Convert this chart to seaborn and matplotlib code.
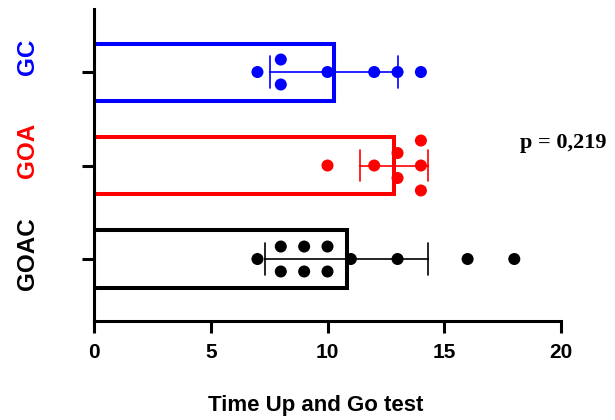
import numpy as np
import pandas as pd
import matplotlib
matplotlib.use("Agg")
import matplotlib.pyplot as plt
import matplotlib.transforms as mtransforms
import seaborn as sns

# ---- data ----
groups = ["GC", "GOA", "GOAC"]
colors = ["#0000FF", "#FF0000", "#000000"]
gc_values = [7, 8, 8, 10, 12, 13, 14]
goa_values = [10, 12, 13, 13, 14, 14, 14]
goac_values = [7, 8, 8, 9, 9, 10, 10, 11, 13, 16, 18]
x_ticks = [0, 5, 10, 15, 20]
x_label = "Time Up and Go test"
p_text = "p = 0,219"

# layout: upward shift (points) of each category label, as in the reference
label_shift_pt = [10.8, 10.8, 4.0]

sns.set_theme(style="ticks")
plt.rcParams["font.family"] = ["Liberation Sans", "DejaVu Sans"]
plt.rcParams["text.color"] = "black"
plt.rcParams["axes.labelcolor"] = "black"
plt.rcParams["axes.edgecolor"] = "black"
plt.rcParams["xtick.color"] = "black"
plt.rcParams["ytick.color"] = "black"

df = pd.DataFrame({
    "group": ["GC"] * len(gc_values) + ["GOA"] * len(goa_values) + ["GOAC"] * len(goac_values),
    "value": gc_values + goa_values + goac_values,
})
palette = dict(zip(groups, colors))

fig = plt.figure(figsize=(6.15, 4.2), dpi=100)
ax = fig.add_axes([94 / 615, 1 - 321 / 420, (561 - 94) / 615, (321 - 9) / 420])

for g in groups:
    sub = df[df["group"] == g]
    sns.barplot(data=sub, x="value", y="group", order=groups, orient="h",
                color=palette[g], fill=False, linewidth=2.9, width=0.61,
                errorbar="sd", capsize=0.34,
                err_kws={"color": palette[g], "linewidth": 1.2}, ax=ax)

# symmetric vertical spread of tied values
dup_n = df.groupby(["group", "value"])["value"].transform("size")
dup_i = df.groupby(["group", "value"]).cumcount()
spread = 0.267
df["pos"] = df["group"].map({g: i for i, g in enumerate(groups)}) + (dup_i - (dup_n - 1) / 2) * spread

sns.scatterplot(data=df, x="value", y="pos", hue="group", palette=palette,
                s=75, linewidth=0, legend=False, zorder=3, ax=ax)

ax.set_xlim(0, 20)
ax.set_ylim(2.663, -0.674)
ax.set_xticks(x_ticks)
ax.set_xticklabels([str(t) for t in x_ticks], fontsize=15, fontweight="bold")
ax.set_yticks(range(len(groups)))
ax.set_yticklabels([])

# category labels (rotated, coloured), placed next to their ticks
base_tr = ax.get_yaxis_transform()
for i, (g, c, dy) in enumerate(zip(groups, colors, label_shift_pt)):
    tr = base_tr + mtransforms.ScaledTranslation(0, dy / 72, fig.dpi_scale_trans)
    ax.text(-0.118, i, g, transform=tr, rotation=90, ha="right", va="center",
            fontsize=17.5, fontweight="bold", color=c, clip_on=False)

sns.despine(ax=ax)
for s in ["left", "bottom"]:
    ax.spines[s].set_linewidth(2.2)
ax.tick_params(axis="x", length=8.6, width=2.2, pad=7)
ax.tick_params(axis="y", length=8.6, width=2.2)
ax.set_ylabel("")
ax.set_xlabel(x_label, fontsize=16, fontweight="bold", labelpad=24)
ax.xaxis.label.set_x(0.474)

fig.text(520 / 615, 1 - 148 / 420, p_text, fontsize=16, fontweight="bold",
         family=["Liberation Serif", "DejaVu Serif"], va="baseline", ha="left")

fig.savefig("out.png", dpi=100)
